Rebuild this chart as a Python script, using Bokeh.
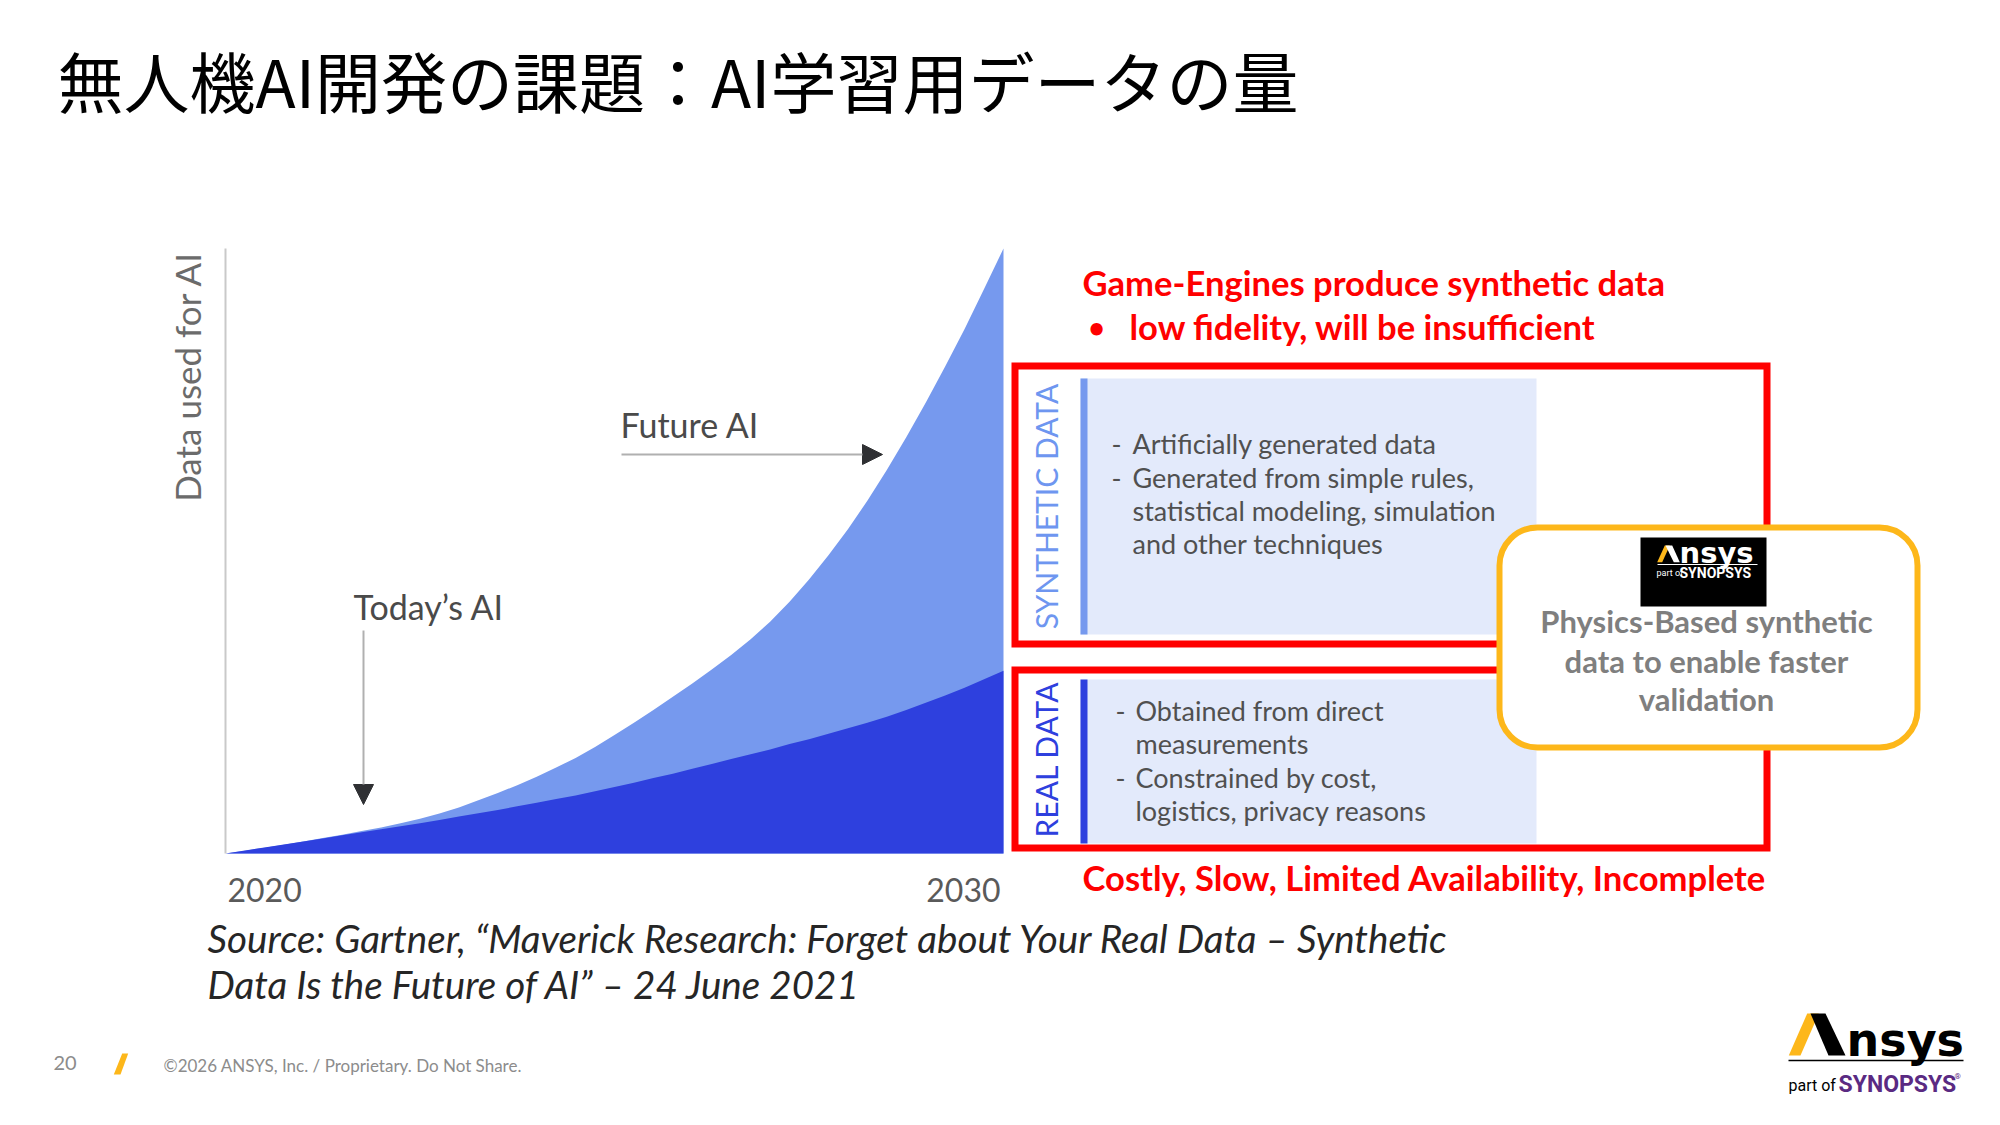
from math import pi
from bokeh.plotting import figure
from bokeh.models import Range1d, BoxAnnotation, Arrow, NormalHead
from bokeh.core.properties import value
from bokeh.embed import file_html
from bokeh.resources import INLINE

# ---------------- data ----------------
years = [2020.0, 2020.25, 2020.5, 2020.75, 2021.0, 2021.25, 2021.5, 2021.75,
         2022.0, 2022.25, 2022.5, 2022.75, 2023.0, 2023.25, 2023.5, 2023.75,
         2024.0, 2024.25, 2024.5, 2024.75, 2025.0, 2025.25, 2025.5, 2025.75,
         2026.0, 2026.25, 2026.5, 2026.75, 2027.0, 2027.25, 2027.5, 2027.75,
         2028.0, 2028.25, 2028.5, 2028.75, 2029.0, 2029.25, 2029.5, 2029.75, 2030.0]
total_data = [0.0, 0.45, 0.95, 1.45, 2.0, 2.55, 3.1, 3.7,
              4.3, 5.0, 5.75, 6.6, 7.6, 8.8, 10.0, 11.3,
              12.7, 14.2, 15.8, 17.6, 19.6, 21.6, 23.7, 25.9,
              28.1, 30.4, 32.8, 35.4, 38.3, 41.6, 45.3, 49.3,
              53.6, 58.3, 63.4, 68.8, 74.5, 80.5, 86.7, 93.3, 100.0]
real_data = [0.0, 0.5, 1.0, 1.5, 2.0, 2.5, 3.0, 3.5,
             4.0, 4.5, 5.0, 5.55, 6.1, 6.65, 7.2, 7.8,
             8.4, 9.0, 9.6, 10.3, 11.0, 11.7, 12.5, 13.2,
             14.0, 14.8, 15.6, 16.4, 17.2, 18.1, 18.9, 19.8,
             20.7, 21.6, 22.6, 23.7, 24.9, 26.1, 27.4, 28.8, 30.2]
tick_years = [2020, 2030]
tick_labels = ["2020", "2030"]

title = "無人機AI開発の課題：AI学習用データの量"
y_label = "Data used for AI"
synthetic_title = "SYNTHETIC DATA"
real_title = "REAL DATA"
synthetic_lines = ["Artificially generated data", "Generated from simple rules,",
                   "statistical modeling, simulation", "and other techniques"]
synthetic_dash = [True, True, False, False]
real_lines = ["Obtained from direct", "measurements", "Constrained by cost,",
              "logistics, privacy reasons"]
real_dash = [True, False, True, False]
red_top = ["Game-Engines produce synthetic data", "low fidelity, will be insufficient"]
red_bottom = "Costly, Slow, Limited Availability, Incomplete"
physics_lines = ["Physics-Based synthetic", "data to enable faster", "validation"]
source_lines = ["Source: Gartner, \u201cMaverick Research: Forget about Your Real Data \u2013 Synthetic",
                "Data Is the Future of AI\u201d \u2013 24 June 2021"]
footer_page = "20"
footer_text = "\u00a92026 ANSYS, Inc. / Proprietary. Do Not Share."

# ---------------- layout (page pixels) ----------------
W, H = 1984, 1109
OX, OY = 0, 0
CH_L, CH_R = 225, 1003      # px of 2020 and 2030
CH_B, CH_T = 853, 248       # px of value 0 and 100

LIGHT = "#7699EE"
DARK = "#2E40DE"
RED = "#FF0000"
ORANGE = "#FDB71A"
GREY_TXT = "#5a5a5a"

p = figure(width=W, height=H, output_backend="svg", toolbar_location=None,
           x_range=Range1d(OX, OX + W), y_range=Range1d(OY + H, OY),
           min_border=0, outline_line_color=None, background_fill_color="white",
           border_fill_color="white")
p.axis.visible = False
p.grid.visible = False

# chart scales (years / values) mapped onto the page
px_per_year = (CH_R - CH_L) / (tick_years[1] - tick_years[0])
px_per_val = (CH_B - CH_T) / 100.0
p.extra_x_ranges = {"yr": Range1d(2020 + (OX - CH_L) / px_per_year,
                                  2020 + (OX + W - CH_L) / px_per_year)}
p.extra_y_ranges = {"val": Range1d((CH_B - (OY + H)) / px_per_val,
                                   (CH_B - OY) / px_per_val)}

p.varea(x=years, y1=0, y2=total_data, fill_color=LIGHT, x_range_name="yr", y_range_name="val")
p.varea(x=years, y1=0, y2=real_data, fill_color=DARK, x_range_name="yr", y_range_name="val")
# y axis line
p.segment(x0=[2020], y0=[0], x1=[2020], y1=[100], line_color="#c9c9c9", line_width=2,
          x_range_name="yr", y_range_name="val")
# tick labels
p.text(x=[tick_years[0]], y=[0], text=[tick_labels[0]], x_range_name="yr", y_range_name="val",
       text_font=value("Lato"), text_font_size="32px", text_color=GREY_TXT,
       text_align="left", text_baseline="middle", x_offset=2, y_offset=36)
p.text(x=[tick_years[1]], y=[0], text=[tick_labels[1]], x_range_name="yr", y_range_name="val",
       text_font=value("Lato"), text_font_size="32px", text_color=GREY_TXT,
       text_align="right", text_baseline="middle", x_offset=-3, y_offset=36)

# axis title
p.text(x=[186], y=[376], text=[y_label], angle=pi / 2, text_font=value("Lato"),
       text_font_size="35px", text_color="#6b6b6b", text_align="center", text_baseline="middle")

# annotations in chart
p.text(x=[620], y=[424], text=["Future AI"], text_font=value("Lato"), text_font_size="34px",
       text_color="#4a4a4a", text_baseline="middle")
p.text(x=[353], y=[606], text=["Today\u2019s AI"], text_font=value("Lato"), text_font_size="34px",
       text_color="#4a4a4a", text_baseline="middle")
p.add_layout(Arrow(end=NormalHead(size=20, fill_color="#2f3033", line_color="#2f3033"),
                   x_start=621, y_start=454, x_end=882, y_end=454,
                   line_color="#b0b0b0", line_width=2))
p.add_layout(Arrow(end=NormalHead(size=20, fill_color="#2f3033", line_color="#2f3033"),
                   x_start=363, y_start=630, x_end=363, y_end=804,
                   line_color="#b0b0b0", line_width=2))

# title
p.text(x=[57], y=[78], text=[title], text_font=value("Noto Sans CJK JP"), text_font_size="66px",
       text_color="black", text_baseline="middle")

# right panels
p.quad(left=[1080, 1080], right=[1536, 1536], top=[378, 679], bottom=[634, 843],
       fill_color="#E3EAFB", line_color=None)
p.quad(left=[1080, 1080], right=[1087, 1087], top=[378, 679], bottom=[634, 843],
       fill_color=[LIGHT, DARK], line_color=None)
p.text(x=[1045], y=[506], text=[synthetic_title], angle=pi / 2, text_font=value("Lato"),
       text_font_size="30px", text_color="#6E96F0", text_align="center", text_baseline="middle")
p.text(x=[1045], y=[759], text=[real_title], angle=pi / 2, text_font=value("Lato"),
       text_font_size="30px", text_color=DARK, text_align="center", text_baseline="middle")

syn_y = [443, 477, 510, 543]
real_y = [710, 743, 777, 810]
p.text(x=[1132] * 4, y=syn_y, text=synthetic_lines, text_font=value("Lato"), text_font_size="27px",
       text_color="#505050", text_baseline="middle")
p.text(x=[1111] * 2, y=[y for y, d in zip(syn_y, synthetic_dash) if d], text=["-", "-"],
       text_font=value("Lato"), text_font_size="27px", text_color="#505050", text_baseline="middle")
p.text(x=[1135] * 4, y=real_y, text=real_lines, text_font=value("Lato"), text_font_size="27px",
       text_color="#505050", text_baseline="middle")
p.text(x=[1115] * 2, y=[y for y, d in zip(real_y, real_dash) if d], text=["-", "-"],
       text_font=value("Lato"), text_font_size="27px", text_color="#505050", text_baseline="middle")

# red boxes
p.quad(left=[1014.5, 1014.5], right=[1766.5, 1766.5], top=[365.5, 669.5], bottom=[643.5, 847.5],
       fill_color=None, line_color=RED, line_width=7, line_join="miter")

# red texts
p.text(x=[1082], y=[282], text=[red_top[0]], text_font=value("Lato"), text_font_size="34.6px",
       text_font_style="bold", text_color=RED, text_baseline="middle")
p.text(x=[1088], y=[326], text=["\u2022"], text_font=value("Lato"), text_font_size="28px",
       text_font_style="bold", text_color=RED, text_baseline="middle")
p.text(x=[1129], y=[326], text=[red_top[1]], text_font=value("Lato"), text_font_size="34.6px",
       text_font_style="bold", text_color=RED, text_baseline="middle")
p.text(x=[1082], y=[877], text=[red_bottom], text_font=value("Lato"), text_font_size="34.6px",
       text_font_style="bold", text_color=RED, text_baseline="middle")

# orange rounded box
p.add_layout(BoxAnnotation(left=1499, right=1917, top=527, bottom=747, border_radius=38,
                           fill_color="white", fill_alpha=1.0, line_color=ORANGE, line_width=6,
                           line_alpha=1.0))
p.text(x=[1706] * 3, y=[620, 660, 698], text=physics_lines, text_font=value("Lato"),
       text_font_size="31px", text_font_style="bold", text_color="#7f7f7f",
       text_align="center", text_baseline="middle", level="overlay")

# small logo in box
p.quad(left=[1640], right=[1766], top=[537], bottom=[606], fill_color="black", line_color=None,
       level="overlay")
p.patch(x=[1656.7, 1661.7, 1669.3, 1664.3], y=[561.7, 561.7, 545, 545], fill_color=ORANGE,
        line_color=None, level="overlay")
p.patch(x=[1665, 1671.7, 1679.3, 1673.3], y=[545, 545, 561.7, 561.7], fill_color="white",
        line_color=None, level="overlay")
p.text(x=[1679], y=[552], text=["nsys"], text_font=value("DejaVu Sans"), text_font_size="29px",
       text_font_style="bold", text_color="white", text_baseline="middle", level="overlay")
p.segment(x0=[1657], y0=[564], x1=[1757], y1=[564], line_color="white", line_width=1, level="overlay")
p.text(x=[1656], y=[572], text=["part of"], text_font=value("Roboto"), text_font_size="9px",
       text_color="white", text_baseline="middle", level="overlay")
p.text(x=[1679], y=[572], text=["SYNOPSYS"], text_font=value("Roboto"), text_font_size="14px",
       text_font_style="bold", text_color="white", text_baseline="middle", level="overlay")

# source
p.text(x=[207, 207], y=[937, 983], text=source_lines, text_font=value("Lato"), text_font_size="38.6px",
       text_font_style="italic", text_color="#262626", text_baseline="middle")

# footer
p.text(x=[53], y=[1062], text=[footer_page], text_font=value("Lato"), text_font_size="20px",
       text_color="#8c8c8c", text_baseline="middle")
p.patch(x=[113.3, 120, 127.7, 121.7], y=[1074, 1074, 1053, 1053], fill_color=ORANGE, line_color=None)
p.text(x=[163], y=[1065], text=[footer_text], text_font=value("Lato"), text_font_size="17px",
       text_color="#8c8c8c", text_baseline="middle")

# bottom-right logo
p.patch(x=[1788.3, 1800, 1818.3, 1806.7], y=[1055, 1055, 1013, 1013], fill_color=ORANGE, line_color=None)
p.patch(x=[1810, 1825, 1845, 1828], y=[1013, 1013, 1055, 1055], fill_color="black", line_color=None)
p.text(x=[1846], y=[1039], text=["nsys"], text_font=value("DejaVu Sans"), text_font_size="46px",
       text_font_style="bold", text_color="black", text_baseline="middle")
p.segment(x0=[1788], y0=[1060], x1=[1963], y1=[1060], line_color="black", line_width=1.5)
p.text(x=[1788], y=[1085], text=["part of"], text_font=value("Roboto"), text_font_size="16px",
       text_color="black", text_baseline="middle")
p.text(x=[1838], y=[1084], text=["SYNOPSYS"], text_font=value("Roboto"), text_font_size="23px",
       text_font_style="bold", text_color="#5A2A82", text_baseline="middle")
p.text(x=[1954], y=[1076], text=["\u00ae"], text_font=value("Roboto"), text_font_size="8px",
       text_color="#5A2A82", text_baseline="middle")

open("out.html", "w").write(file_html(p, INLINE))
